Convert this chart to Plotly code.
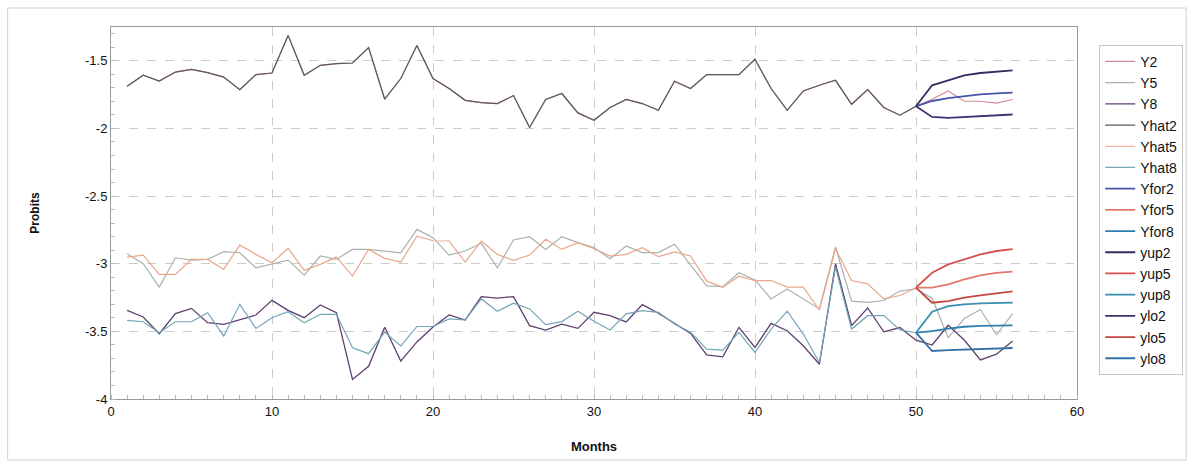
import plotly.graph_objects as go

# ---------------- data ----------------
months_hist = list(range(1, 51))
months_all = list(range(1, 57))
months_fc = list(range(50, 57))

Y2 = [-1.688, -1.607, -1.649, -1.583, -1.563, -1.587, -1.620, -1.713, -1.602, -1.590,
      -1.312, -1.607, -1.533, -1.521, -1.516, -1.402, -1.784, -1.631, -1.386, -1.631,
      -1.705, -1.792, -1.809, -1.816, -1.757, -1.993, -1.786, -1.742, -1.885, -1.939,
      -1.845, -1.786, -1.816, -1.866, -1.651, -1.705, -1.602, -1.600, -1.602, -1.489,
      -1.705, -1.866, -1.723, -1.681, -1.644, -1.821, -1.713, -1.845, -1.902, -1.836,
      -1.784, -1.723, -1.799, -1.799, -1.812, -1.786]
Y5 = [-2.926, -3.000, -3.172, -2.956, -2.973, -2.968, -2.911, -2.919, -3.030, -3.000,
      -2.973, -3.084, -2.943, -2.968, -2.894, -2.894, -2.906, -2.919, -2.746, -2.807,
      -2.936, -2.906, -2.849, -3.030, -2.824, -2.800, -2.894, -2.800, -2.844, -2.881,
      -2.963, -2.869, -2.918, -2.918, -2.856, -3.010, -3.164, -3.170, -3.067, -3.120,
      -3.260, -3.186, -3.260, -3.334, -2.876, -3.277, -3.285, -3.272, -3.202, -3.185,
      -3.255, -3.547, -3.405, -3.338, -3.525, -3.369]
Y8 = [-3.345, -3.394, -3.517, -3.369, -3.330, -3.436, -3.448, -3.411, -3.379, -3.271,
      -3.345, -3.399, -3.305, -3.362, -3.855, -3.758, -3.469, -3.720, -3.578, -3.467,
      -3.379, -3.416, -3.243, -3.255, -3.243, -3.458, -3.490, -3.446, -3.478, -3.359,
      -3.384, -3.430, -3.302, -3.366, -3.441, -3.515, -3.673, -3.688, -3.470, -3.619,
      -3.441, -3.495, -3.606, -3.743, -3.000, -3.458, -3.327, -3.503, -3.472, -3.565,
      -3.601, -3.455, -3.564, -3.711, -3.669, -3.572]
Yhat2 = [-1.688, -1.607, -1.649, -1.583, -1.563, -1.587, -1.620, -1.713, -1.602, -1.590,
         -1.312, -1.607, -1.533, -1.521, -1.516, -1.402, -1.784, -1.631, -1.386, -1.631,
         -1.705, -1.792, -1.809, -1.816, -1.757, -1.993, -1.786, -1.742, -1.885, -1.939,
         -1.845, -1.786, -1.816, -1.866, -1.651, -1.705, -1.602, -1.600, -1.602, -1.489,
         -1.705, -1.866, -1.723, -1.681, -1.644, -1.821, -1.713, -1.845, -1.902, -1.836]
Yhat5 = [-2.951, -2.936, -3.079, -3.079, -2.968, -2.968, -3.042, -2.862, -2.931, -2.993,
         -2.887, -3.049, -3.005, -2.951, -3.091, -2.894, -2.960, -2.988, -2.796, -2.830,
         -2.832, -2.988, -2.832, -2.931, -2.975, -2.936, -2.819, -2.894, -2.844, -2.889,
         -2.943, -2.931, -2.881, -2.948, -2.913, -2.943, -3.129, -3.175, -3.092, -3.125,
         -3.124, -3.173, -3.173, -3.342, -2.889, -3.124, -3.149, -3.260, -3.235, -3.177]
Yhat8 = [-3.419, -3.429, -3.510, -3.429, -3.429, -3.362, -3.534, -3.300, -3.478, -3.399,
         -3.355, -3.436, -3.374, -3.374, -3.621, -3.665, -3.505, -3.608, -3.464, -3.463,
         -3.408, -3.416, -3.260, -3.351, -3.292, -3.334, -3.450, -3.428, -3.351, -3.426,
         -3.490, -3.371, -3.347, -3.359, -3.446, -3.507, -3.631, -3.639, -3.507, -3.656,
         -3.483, -3.351, -3.520, -3.730, -3.025, -3.483, -3.384, -3.384, -3.490, -3.510]
Yfor2 = [-1.836, -1.797, -1.775, -1.760, -1.748, -1.741, -1.735]
Yfor5 = [-3.177, -3.177, -3.153, -3.116, -3.086, -3.067, -3.059]
Yfor8 = [-3.510, -3.498, -3.480, -3.466, -3.460, -3.460, -3.456]
yup2 = [-1.836, -1.681, -1.644, -1.607, -1.590, -1.578, -1.570]
yup5 = [-3.177, -3.067, -3.005, -2.968, -2.931, -2.906, -2.892]
yup8 = [-3.510, -3.355, -3.313, -3.300, -3.293, -3.290, -3.288]
ylo2 = [-1.836, -1.915, -1.922, -1.917, -1.910, -1.902, -1.897]
ylo5 = [-3.177, -3.288, -3.276, -3.251, -3.234, -3.219, -3.205]
ylo8 = [-3.510, -3.645, -3.638, -3.633, -3.628, -3.628, -3.623]

x_ticks = [0, 10, 20, 30, 40, 50, 60]
y_tick_vals = [-4, -3.5, -3, -2.5, -2, -1.5]
y_tick_text = ["-4", "-3.5", "-3", "-2.5", "-2", "-1.5"]

# ---------------- styling ----------------
series = [
    ("Y2", months_all, Y2, "#d58a98", 1.2),
    ("Y5", months_all, Y5, "#a9b2b0", 1.2),
    ("Y8", months_all, Y8, "#5e3f6e", 1.3),
    ("Yhat2", months_hist, Yhat2, "#5a5a60", 1.2),
    ("Yhat5", months_hist, Yhat5, "#eaa68a", 1.2),
    ("Yhat8", months_hist, Yhat8, "#74a6b8", 1.2),
    ("Yfor2", months_fc, Yfor2, "#4656a6", 1.8),
    ("Yfor5", months_fc, Yfor5, "#e07a6a", 1.8),
    ("Yfor8", months_fc, Yfor8, "#2f7fae", 1.8),
    ("yup2", months_fc, yup2, "#2e2e62", 1.8),
    ("yup5", months_fc, yup5, "#d5504e", 1.8),
    ("yup8", months_fc, yup8, "#3a8fb0", 1.8),
    ("ylo2", months_fc, ylo2, "#3e3272", 1.8),
    ("ylo5", months_fc, ylo5, "#c24a40", 1.8),
    ("ylo8", months_fc, ylo8, "#3470a8", 1.8),
]

fig = go.Figure()
for name, xs, ys, col, w in series:
    fig.add_trace(go.Scatter(x=xs, y=ys, mode="lines", name=name,
                             line=dict(color=col, width=w)))

font_family = "Liberation Sans, Arial, sans-serif"
grid = dict(showgrid=True, gridcolor="#cccccc", griddash="dash", gridwidth=1)

fig.update_layout(
    width=1189, height=468,
    margin=dict(l=111, r=112, t=27, b=69, autoexpand=False),
    paper_bgcolor="white", plot_bgcolor="white",
    font=dict(family=font_family, size=13, color="#111"),
    legend=dict(x=1.023, xanchor="left", y=0.952, yanchor="top",
                bordercolor="#c4c4c4", borderwidth=1,
                font=dict(size=14, family=font_family),
                itemwidth=30, tracegroupgap=0),
    xaxis=dict(range=[0, 60], tickvals=x_ticks, zeroline=False,
               showline=True, linecolor="#9a9a9a", mirror=True,
               ticks="", ticklen=0,
               minor=dict(dtick=1, ticks="inside", ticklen=4, tickcolor="#bbbbbb", showgrid=False),
               title=dict(text="<b>Months</b>", font=dict(size=13), standoff=24),
               tickfont=dict(size=13), **grid),
    yaxis=dict(range=[-4, -1.25], tickvals=y_tick_vals, ticktext=y_tick_text,
               zeroline=False, showline=True, linecolor="#9a9a9a", mirror=True,
               ticks="", ticklen=0,
               minor=dict(dtick=0.1, ticks="inside", ticklen=4, tickcolor="#bbbbbb", showgrid=False),
               title=dict(text="<b>Probits</b>", font=dict(size=12), standoff=42),
               tickfont=dict(size=13), **grid),
    showlegend=True,
)

# outer chart border
fig.add_shape(type="rect", xref="paper", yref="paper",
              x0=-0.107, x1=1.113, y0=-0.164, y1=1.051,
              line=dict(color="#d0d0d0", width=1), layer="below")

fig.write_html("out.html")
